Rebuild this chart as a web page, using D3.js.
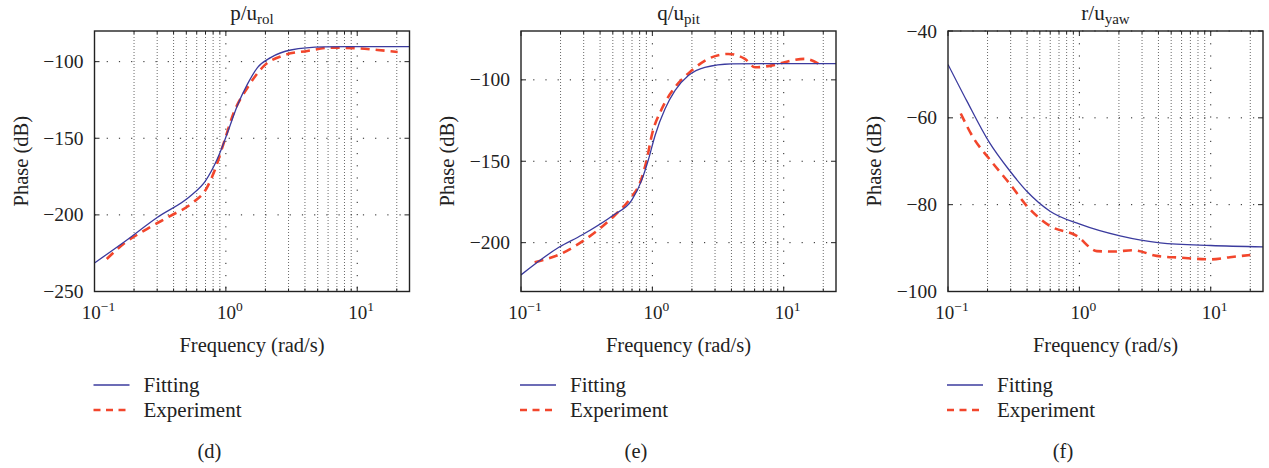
<!DOCTYPE html>
<html>
<head>
<meta charset="utf-8">
<script src="https://cdn.jsdelivr.net/npm/d3@7"></script>
<style>
  body { margin: 0; background: #fff; }
  svg { display: block; }
  text { font-family: 'Liberation Serif', 'DejaVu Serif', serif; }
</style>
</head>
<body>
<script>
// Bode phase plots: fitted model vs. experiment, three axes.

// ---- data ----
const dFitFreq  = [0.1, 0.166, 0.30, 0.54, 0.70, 0.86, 1.03, 1.22, 1.46, 1.74, 2.19, 3.12, 5.6, 10, 25];
const dFitPhase = [-231.4, -218, -201.7, -187.5, -177.8, -163.6, -146.3, -128.9, -114.7, -103.9, -97.4, -92.4, -90.4, -90.2, -90.2];
const dExpFreq  = [0.124, 0.166, 0.237, 0.379, 0.54, 0.72, 0.81, 0.966, 1.15, 1.46, 1.95, 2.77, 4.18, 6.3, 10, 14.3, 20.3];
const dExpPhase = [-228.8, -219, -210.4, -200.6, -193, -182, -172.4, -152.8, -133.2, -117, -102.8, -95.8, -93, -90.9, -91.3, -92.4, -93.7];

const eFitFreq  = [0.1, 0.193, 0.291, 0.506, 0.697, 0.83, 0.93, 1.05, 1.25, 1.49, 1.88, 2.51, 4.0, 10, 25];
const eFitPhase = [-219.8, -203, -195.3, -183, -173.9, -161.6, -149.4, -134, -117.8, -106.5, -97.4, -92.3, -90.2, -90, -90];
const eExpFreq  = [0.127, 0.193, 0.291, 0.40, 0.52, 0.68, 0.81, 0.91, 0.99, 1.18, 1.49, 1.99, 2.66, 3.78, 5.06, 6.03, 8.55, 11.4, 14.4, 19.3];
const eExpPhase = [-212, -207.5, -199.4, -191.2, -183, -172.8, -162.7, -148.4, -134, -117.8, -104.5, -94.3, -87.1, -84.1, -87.1, -92.3, -90.8, -88.2, -87.1, -91.2];

const fFitFreq  = [0.1, 0.139, 0.203, 0.297, 0.398, 0.598, 1.01, 2.04, 4.11, 10, 25];
const fFitPhase = [-47.7, -56.1, -65.3, -72.3, -76.9, -81.5, -84.5, -87.2, -88.8, -89.4, -89.7];
const fExpFreq  = [0.125, 0.156, 0.203, 0.297, 0.409, 0.598, 0.955, 1.36, 1.81, 2.58, 3.88, 5.84, 10, 14, 20];
const fExpPhase = [-59, -64.6, -69.2, -75.3, -80.7, -84.9, -87.2, -90.7, -90.8, -90.5, -91.8, -92.2, -92.6, -92.1, -91.6];

const dYTicks = [-250, -200, -150, -100];
const eYTicks = [-200, -150, -100];
const fYTicks = [-100, -80, -60, -40];
const dYDomain = [-250, -80];
const eYDomain = [-230, -70];
const fYDomain = [-100, -40];

const xDomain = [0.1, 25];
const xMajorTicks = [0.1, 1, 10];
const xExponents = ["\u22121", "0", "1"];
const xMinorTicks = [0.2, 0.3, 0.4, 0.5, 0.6, 0.7, 0.8, 0.9, 2, 3, 4, 5, 6, 7, 8, 9, 20];

const titleBase = ["p/u", "q/u", "r/u"];
const titleSub = ["rol", "pit", "yaw"];
const panelTags = ["(d)", "(e)", "(f)"];
const seriesNames = ["Fitting", "Experiment"];

// ---- styling / layout ----
const W = 1269, H = 468;
const FIT_COLOR = "#3b3b9e";
const EXP_COLOR = "#f2462c";
const INK = "#222";
const plotW = 315;
const plotTop = 31, plotBottom = 291.5;

const panels = [
  {left: 94.5, yDomain: dYDomain, yTicks: dYTicks, fitF: dFitFreq, fit: dFitPhase, expF: dExpFreq, exp: dExpPhase},
  {left: 521,  yDomain: eYDomain, yTicks: eYTicks, fitF: eFitFreq, fit: eFitPhase, expF: eExpFreq, exp: eExpPhase},
  {left: 948,  yDomain: fYDomain, yTicks: fYTicks, fitF: fFitFreq, fit: fFitPhase, expF: fExpFreq, exp: fExpPhase}
];

const svg = d3.select("body").append("svg")
  .attr("width", W).attr("height", H);

const fmtMinus = v => String(v).replace("-", "\u2212");

panels.forEach((p, i) => {
  const x = d3.scaleLog().domain(xDomain).range([p.left, p.left + plotW]);
  const y = d3.scaleLinear().domain(p.yDomain).range([plotBottom, plotTop]);
  const g = svg.append("g");
  const cx = p.left + plotW / 2;

  // grid - minor verticals are dense dots, major ones are sparse
  g.selectAll(".vminor").data(xMinorTicks).enter().append("line")
    .attr("x1", d => x(d)).attr("x2", d => x(d))
    .attr("y1", plotTop).attr("y2", plotBottom)
    .attr("stroke", "#444").attr("stroke-width", 0.8)
    .attr("stroke-dasharray", "1,2");
  g.selectAll(".vmajor").data(xMajorTicks.slice(1)).enter().append("line")
    .attr("x1", d => x(d)).attr("x2", d => x(d))
    .attr("y1", plotTop).attr("y2", plotBottom)
    .attr("stroke", INK).attr("stroke-width", 1)
    .attr("stroke-dasharray", "1.2,11");
  g.selectAll(".hgrid").data(p.yTicks).enter().append("line")
    .attr("x1", p.left).attr("x2", p.left + plotW)
    .attr("y1", d => y(d)).attr("y2", d => y(d))
    .attr("stroke", INK).attr("stroke-width", 1)
    .attr("stroke-dasharray", "1.2,11");

  // curves
  const line = (xs) => d3.line()
    .x((d, k) => x(xs[k]))
    .y(d => y(d))
    .curve(d3.curveMonotoneX);

  const clipId = "clip" + i;
  svg.append("clipPath").attr("id", clipId).append("rect")
    .attr("x", p.left).attr("y", plotTop)
    .attr("width", plotW).attr("height", plotBottom - plotTop);

  g.append("path").datum(p.exp)
    .attr("clip-path", "url(#" + clipId + ")")
    .attr("d", line(p.expF))
    .attr("fill", "none").attr("stroke", EXP_COLOR)
    .attr("stroke-width", 2.6).attr("stroke-dasharray", "9,6");
  g.append("path").datum(p.fit)
    .attr("clip-path", "url(#" + clipId + ")")
    .attr("d", line(p.fitF))
    .attr("fill", "none").attr("stroke", FIT_COLOR)
    .attr("stroke-width", 1.3);

  // inward ticks, both sides
  const tk = 5;
  p.yTicks.forEach(v => {
    g.append("line").attr("x1", p.left).attr("x2", p.left + tk)
      .attr("y1", y(v)).attr("y2", y(v)).attr("stroke", INK);
    g.append("line").attr("x1", p.left + plotW).attr("x2", p.left + plotW - tk)
      .attr("y1", y(v)).attr("y2", y(v)).attr("stroke", INK);
  });
  xMajorTicks.concat(xMinorTicks).forEach(v => {
    const len = xMajorTicks.includes(v) ? tk : 3;
    g.append("line").attr("x1", x(v)).attr("x2", x(v))
      .attr("y1", plotBottom).attr("y2", plotBottom - len).attr("stroke", INK);
    g.append("line").attr("x1", x(v)).attr("x2", x(v))
      .attr("y1", plotTop).attr("y2", plotTop + len).attr("stroke", INK);
  });

  // frame
  g.append("rect")
    .attr("x", p.left).attr("y", plotTop)
    .attr("width", plotW).attr("height", plotBottom - plotTop)
    .attr("fill", "none").attr("stroke", INK).attr("stroke-width", 1.4);

  // y tick labels
  g.selectAll(".ylab").data(p.yTicks).enter().append("text")
    .attr("x", p.left - 11).attr("y", d => y(d) + 6.5)
    .attr("text-anchor", "end").attr("font-size", 19.5).attr("fill", INK)
    .text(fmtMinus);

  // x tick labels 10^n
  xMajorTicks.forEach((v, k) => {
    const t = g.append("text")
      .attr("x", x(v) + 4).attr("y", 318.5)
      .attr("text-anchor", "middle").attr("font-size", 19).attr("fill", INK);
    t.append("tspan").text("10");
    t.append("tspan").attr("font-size", 13.5).attr("dy", -8).text(xExponents[k]);
  });

  // titles and axis labels
  const title = g.append("text")
    .attr("x", cx).attr("y", 19.5)
    .attr("text-anchor", "middle").attr("font-size", 21).attr("fill", INK);
  title.append("tspan").text(titleBase[i]);
  title.append("tspan").attr("font-size", 15).attr("dy", 4).text(titleSub[i]);

  g.append("text")
    .attr("transform", "translate(" + (p.left - 67) + "," + ((plotTop + plotBottom) / 2) + ") rotate(-90)")
    .attr("text-anchor", "middle").attr("font-size", 20.5).attr("fill", INK)
    .text("Phase (dB)");

  g.append("text")
    .attr("x", cx).attr("y", 352)
    .attr("text-anchor", "middle").attr("font-size", 20.5).attr("fill", INK)
    .text("Frequency (rad/s)");

  // legend
  const legY = [385, 410];
  g.append("line").attr("x1", p.left - 1).attr("x2", p.left + 35)
    .attr("y1", legY[0]).attr("y2", legY[0])
    .attr("stroke", FIT_COLOR).attr("stroke-width", 1.3);
  g.append("line").attr("x1", p.left - 1).attr("x2", p.left + 35)
    .attr("y1", legY[1]).attr("y2", legY[1])
    .attr("stroke", EXP_COLOR).attr("stroke-width", 2.6)
    .attr("stroke-dasharray", "7,5.5");
  seriesNames.forEach((s, k) => {
    g.append("text")
      .attr("x", p.left + 49).attr("y", legY[k] + 6.5)
      .attr("font-size", 21).attr("fill", INK)
      .text(s);
  });

  g.append("text")
    .attr("x", p.left + 115).attr("y", 458)
    .attr("text-anchor", "middle").attr("font-size", 20.5).attr("fill", INK)
    .text(panelTags[i]);
});
</script>
</body>
</html>
